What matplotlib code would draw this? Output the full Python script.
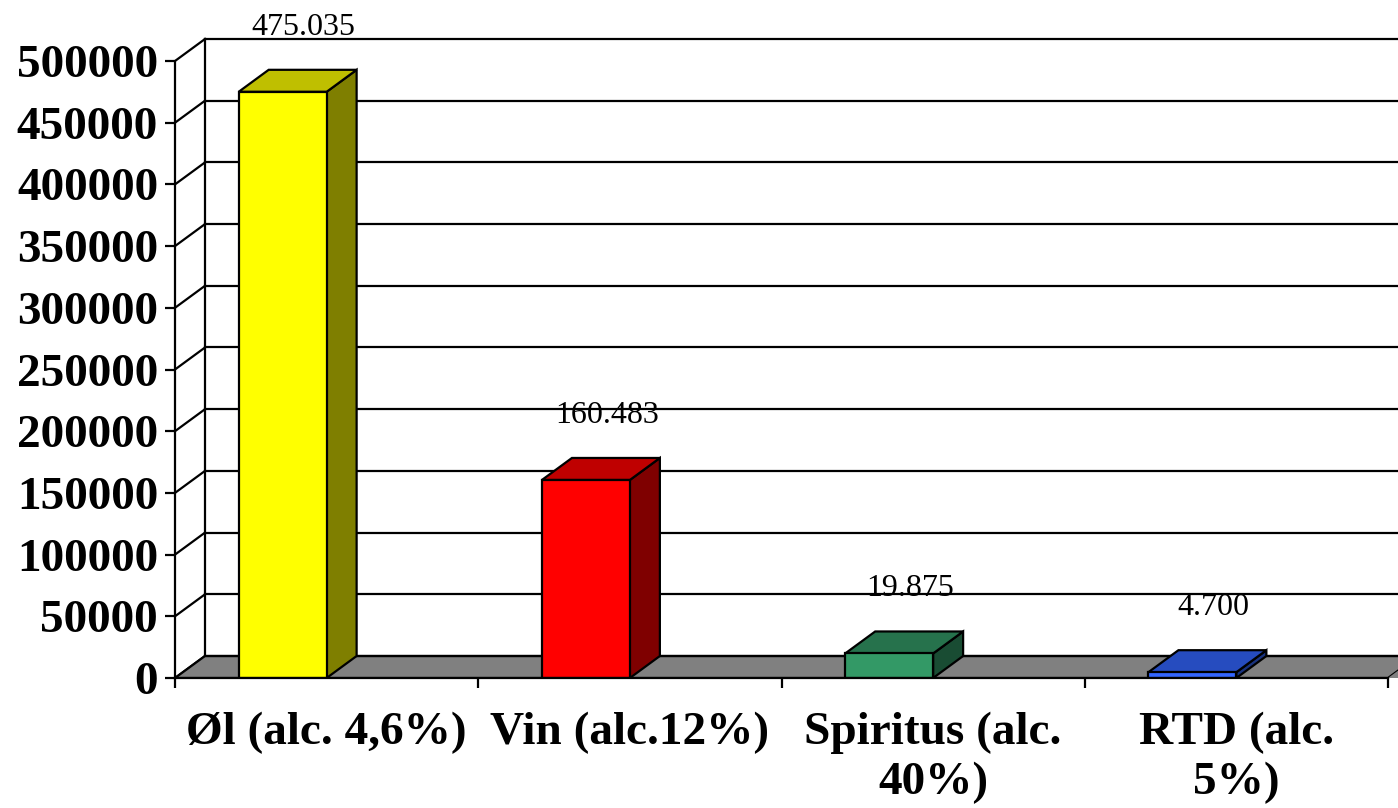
import matplotlib.pyplot as plt
from matplotlib.patches import Polygon
import numpy as np

plt.rcParams['font.family'] = ['Liberation Serif', 'DejaVu Serif']

categories = ["Øl (alc. 4,6%)", "Vin (alc.12%)", "Spiritus (alc.\n40%)", "RTD (alc.\n5%)"]
values = [475035, 160483, 19875, 4700]
value_labels = ["475.035", "160.483", "19.875", "4.700"]
front_colors = ["#FFFF00", "#FF0000", "#339966", "#3366FF"]
yticks = np.arange(0, 500001, 50000)

W, H = 1398, 808
fig = plt.figure(figsize=(W / 100, H / 100), dpi=100)

# axes = front plane: 0 at pixel row 678, 500000 at row 61, categories 303.25 px wide
px_x = 303.25
px_y = 617 / 500000
ax = fig.add_axes([175 / W, (H - 678) / H, (W - 175) / W, 678 / H])
ax.set_xlim(0, (W - 175) / px_x)
ax.set_ylim(0, 678 / px_y)

# 3d depth offset
dx = 30 / px_x
dy = 22 / px_y
n = len(categories)
lw = 1.6

# back wall gridlines + left side wall
for v in yticks[1:]:
    ax.plot([dx, n + 1], [v + dy, v + dy], color="black", lw=lw, zorder=1)
for v in yticks:
    ax.plot([0, dx], [v, v + dy], color="black", lw=lw, zorder=1)
ax.plot([dx, dx], [dy, yticks[-1] + dy], color="black", lw=lw, zorder=1)

# floor
ax.add_patch(Polygon([(0, 0), (n, 0), (n + dx, dy), (dx, dy)], closed=True,
                     facecolor="#808080", edgecolor="black", lw=lw, zorder=2))
ax.add_patch(Polygon([(n, 0), (n + 1, 0), (n + 1, dy), (n + dx, dy)], closed=True,
                     facecolor="#808080", edgecolor="none", zorder=2))
ax.plot([dx, n + 1], [dy, dy], color="black", lw=lw, zorder=2)


def shade(c, f):
    r, g, b = [int(c[i:i + 2], 16) for i in (1, 3, 5)]
    return "#%02x%02x%02x" % (int(r * f), int(g * f), int(b * f))


x0s = np.arange(n) + 0.21
bw = 0.29
for x0, v, c, lab in zip(x0s, values, front_colors, value_labels):
    front = [(x0, 0), (x0 + bw, 0), (x0 + bw, v), (x0, v)]
    side = [(x0 + bw, 0), (x0 + bw + dx, dy), (x0 + bw + dx, v + dy), (x0 + bw, v)]
    top = [(x0, v), (x0 + dx, v + dy), (x0 + bw + dx, v + dy), (x0 + bw, v)]
    ax.add_patch(Polygon(side, closed=True, facecolor=shade(c, 0.5), edgecolor="black", lw=lw, zorder=3))
    ax.add_patch(Polygon(top, closed=True, facecolor=shade(c, 0.75), edgecolor="black", lw=lw, zorder=3))
    ax.add_patch(Polygon(front, closed=True, facecolor=c, edgecolor="black", lw=lw, zorder=4))
    ax.annotate(lab, (x0 + (bw + dx) / 2 + 0.02, v + dy), xytext=(0, 28), textcoords="offset pixels",
                ha="center", va="bottom", fontsize=23, zorder=5, annotation_clip=False)

for s in ["top", "right"]:
    ax.spines[s].set_visible(False)
ax.spines["left"].set_bounds(0, yticks[-1])
ax.spines["bottom"].set_bounds(0, n)
for s in ["left", "bottom"]:
    ax.spines[s].set_linewidth(lw)
    ax.spines[s].set_zorder(6)

ax.set_yticks(yticks)
ax.set_yticklabels([str(v) for v in yticks], fontsize=34, fontweight="bold")
ax.tick_params(axis="y", length=7.2, width=lw, pad=5)

ax.set_xticks(np.arange(n + 1))
ax.set_xticklabels([])
ax.set_xticks(np.arange(n) + 0.5, minor=True)
ax.set_xticklabels(categories, minor=True, fontsize=34, fontweight="bold", linespacing=1.25)
ax.tick_params(axis="x", which="major", length=7.2, width=lw)
ax.tick_params(axis="x", which="minor", length=0, pad=24)
ax.patch.set_alpha(0)

fig.savefig("out.png", dpi=100)
